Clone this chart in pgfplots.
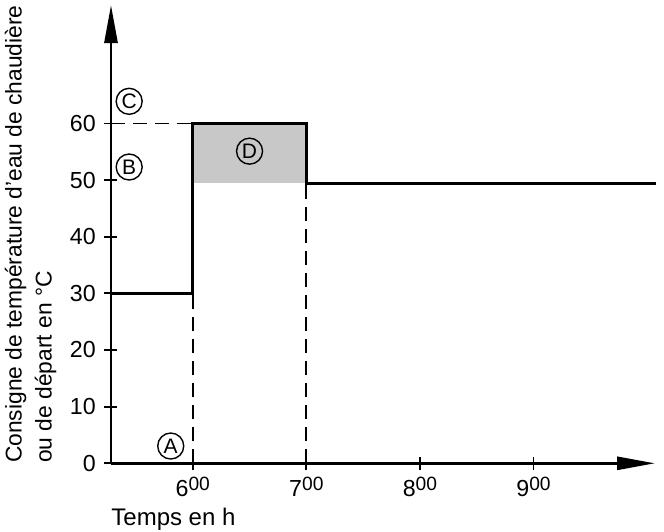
\documentclass[border=0pt]{standalone}
\usepackage{fontspec}
\setmainfont{Liberation Sans}
\usepackage{pgfplots}
\pgfplotsset{compat=1.18}
\usetikzlibrary{arrows.meta}
\definecolor{fillgray}{RGB}{200,200,200}
\newcommand{\hh}[1]{#1{\fontsize{9.6pt}{10pt}\selectfont\raisebox{2.7pt}{00}}}
\begin{document}
\fontsize{11pt}{12pt}\selectfont
\begin{tikzpicture}
\useasboundingbox (-55.5pt,-33.85pt) rectangle (276.5pt,231.65pt);
\begin{axis}[
  scale only axis,
  width=272pt, height=229.15pt,
  xmin=5.28, xmax=10.07, ymin=0, ymax=80.9,
  axis lines=left,
  axis line style={line width=1.4pt, -{Triangle[length=19pt,width=6.5pt]}},
  clip=false,
  xtick={6,7,8,9},
  xticklabels={\hh{6},\hh{7},\hh{8},\hh{9}},
  ytick={0,10,20,30,40,50,60},
  tick align=center,
  major tick length=6.5pt,
  tick style={line width=0.9pt, black},
  /pgf/number format/assume math mode=true,
  ticklabel style={font=\fontsize{11.6pt}{12pt}\selectfont},
  yticklabel style={xshift=-0.5pt},
  xticklabel style={yshift=0pt},
  ylabel={Consigne de température d'eau de chaudière\\ou de départ en °C},
  ylabel style={align=left, font=\fontsize{11.4pt}{15pt}\selectfont, at={(axis description cs:-0.196,0)}, anchor=north west, inner sep=0pt},
  xlabel={Temps en h},
  xlabel style={font=\fontsize{12pt}{13pt}\selectfont, at={(axis description cs:0,-0.096)}, anchor=north west, inner sep=0pt},
]
\addplot[draw=none, fill=fillgray] coordinates {(6,49.4) (7,49.4) (7,60) (6,60)};
\addplot[line width=0.9pt, dash pattern=on 7pt off 4pt] coordinates {(5.28,60) (6,60)};
\addplot[line width=0.9pt, dash pattern=on 7pt off 4pt] coordinates {(6,0) (6,30)};
\addplot[line width=0.9pt, dash pattern=on 7pt off 4pt] coordinates {(7,0) (7,49.4)};
\addplot[const plot, line width=1.5pt] coordinates {(5.28,30) (6,60) (7,49.4) (10.08,49.4)};
\node[circle, draw, line width=0.7pt, inner sep=0pt, minimum size=13pt, font=\fontsize{10.5pt}{12pt}\selectfont] at (axis cs:5.806,3.05) {A};
\node[circle, draw, line width=0.7pt, inner sep=0pt, minimum size=13pt, font=\fontsize{10.5pt}{12pt}\selectfont] at (axis cs:5.44,52.3) {B};
\node[circle, draw, line width=0.7pt, inner sep=0pt, minimum size=13pt, font=\fontsize{10.5pt}{12pt}\selectfont] at (axis cs:5.44,63.9) {C};
\node[circle, draw, line width=0.7pt, inner sep=0pt, minimum size=13pt, font=\fontsize{10.5pt}{12pt}\selectfont] at (axis cs:6.50,55.1) {D};
\end{axis}
\end{tikzpicture}
\end{document}
